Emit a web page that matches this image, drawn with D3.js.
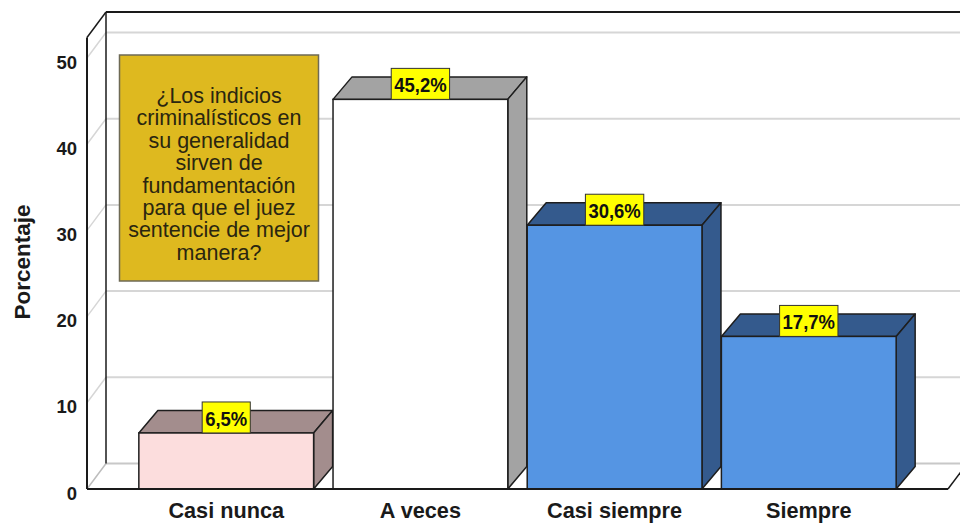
<!DOCTYPE html>
<html>
<head>
<meta charset="utf-8">
<script src="https://cdn.jsdelivr.net/npm/d3@7"></script>
<style>
  html, body { margin: 0; padding: 0; background: #fff; }
  svg { display: block; }
</style>
</head>
<body>
<svg id="chart" width="960" height="523"></svg>
<script>
// Categories and percentages
const categories = ["Casi nunca", "A veces", "Casi siempre", "Siempre"];
const percentages = [6.5, 45.2, 30.6, 17.7];
const yTicks = [0, 10, 20, 30, 40, 50];
const frontColors = ["#FCDDDD", "#FFFFFF", "#5595E3", "#5595E3"];
const depthColors = ["#A38D8D", "#A3A3A3", "#345A8D", "#345A8D"];
const questionLines = [
  "¿Los indicios",
  "criminalísticos en",
  "su generalidad",
  "sirven de",
  "fundamentación",
  "para que el juez",
  "sentencie de mejor",
  "manera?"
];

const svg = d3.select("#chart");
const font = "'Liberation Sans', Arial, sans-serif";

// Front plane scales
const y = d3.scaleLinear().domain([0, 50]).range([489, 58]);
const x = d3.scaleBand().domain(categories).range([87, 948])
  .paddingInner(0.1).paddingOuter(0.267);

// 3D offsets: walls and bars
const wall = { dx: 19, dy: -25.5 };
const bar = { dx: 19, dy: -22.5 };
const xLeft = 87, xRight = 948, yBottom = y(0);

// Back wall grid lines
const grid = svg.append("g");
yTicks.filter(t => t > 0).forEach(t => {
  grid.append("line")
    .attr("x1", xLeft + wall.dx).attr("x2", 960)
    .attr("y1", y(t) + wall.dy).attr("y2", y(t) + wall.dy)
    .attr("stroke", "#D6D6D6").attr("stroke-width", 2);
  grid.append("line")
    .attr("x1", xLeft).attr("y1", y(t))
    .attr("x2", xLeft + wall.dx).attr("y2", y(t) + wall.dy)
    .attr("stroke", "#D6D6D6").attr("stroke-width", 1.5);
});
// Floor back edge and left floor diagonal
grid.append("line")
  .attr("x1", xLeft + wall.dx).attr("x2", 960)
  .attr("y1", yBottom + wall.dy).attr("y2", yBottom + wall.dy)
  .attr("stroke", "#C8C8C8").attr("stroke-width", 2);
grid.append("line")
  .attr("x1", xLeft).attr("y1", yBottom)
  .attr("x2", xLeft + wall.dx).attr("y2", yBottom + wall.dy)
  .attr("stroke", "#BDBDBD").attr("stroke-width", 1.5);

// Frame lines
const frame = svg.append("g").attr("stroke", "#1a1a1a").attr("fill", "none");
const topY = 12;
frame.append("line").attr("x1", xLeft + wall.dx).attr("x2", 960)
  .attr("y1", topY).attr("y2", topY).attr("stroke-width", 2);
frame.append("line").attr("x1", xLeft + wall.dx).attr("x2", xLeft + wall.dx)
  .attr("y1", topY).attr("y2", yBottom + wall.dy).attr("stroke-width", 1.5);
frame.append("line").attr("x1", xLeft).attr("y1", topY - wall.dy)
  .attr("x2", xLeft + wall.dx).attr("y2", topY).attr("stroke-width", 1.5);
frame.append("line").attr("x1", xLeft).attr("x2", xLeft)
  .attr("y1", topY - wall.dy).attr("y2", yBottom).attr("stroke-width", 2);
frame.append("line").attr("x1", xRight).attr("y1", yBottom)
  .attr("x2", xRight + wall.dx).attr("y2", yBottom + wall.dy).attr("stroke-width", 1.5);

// Question box
const qb = svg.append("g");
qb.append("rect")
  .attr("x", 119.5).attr("y", 55).attr("width", 199).attr("height", 226)
  .attr("fill", "#DEB91F").attr("stroke", "#6E6A55").attr("stroke-width", 1.5);
qb.selectAll("text").data(questionLines).join("text")
  .attr("x", 219).attr("y", (d, i) => 103 + i * 22.4)
  .attr("text-anchor", "middle")
  .attr("font-family", font).attr("font-size", 21.5)
  .attr("fill", "#2a2610")
  .text(d => d);

// Bars (front, top, side)
const bars = svg.append("g").selectAll("g").data(categories).join("g");
bars.each(function(c, i) {
  const g = d3.select(this);
  const x0 = x(c), x1 = x(c) + x.bandwidth();
  const yt = y(percentages[i]), yb = y(0);
  const stroke = "#1e1e1e";
  g.append("path")
    .attr("d", `M${x0},${yt}L${x0 + bar.dx},${yt + bar.dy}L${x1 + bar.dx},${yt + bar.dy}L${x1},${yt}Z`)
    .attr("fill", depthColors[i]).attr("stroke", stroke).attr("stroke-width", 1.5)
    .attr("stroke-linejoin", "round");
  g.append("path")
    .attr("d", `M${x1},${yt}L${x1 + bar.dx},${yt + bar.dy}L${x1 + bar.dx},${yb + bar.dy}L${x1},${yb}Z`)
    .attr("fill", depthColors[i]).attr("stroke", stroke).attr("stroke-width", 1.5)
    .attr("stroke-linejoin", "round");
  g.append("rect")
    .attr("x", x0).attr("y", yt).attr("width", x.bandwidth()).attr("height", yb - yt)
    .attr("fill", frontColors[i]).attr("stroke", stroke).attr("stroke-width", 1.5);
});

// Floor front edge (x axis line)
svg.append("line").attr("x1", xLeft).attr("x2", xRight)
  .attr("y1", yBottom).attr("y2", yBottom)
  .attr("stroke", "#1a1a1a").attr("stroke-width", 2);

// Value labels
const fmt = v => v.toFixed(1).replace(".", ",") + "%";
const labels = svg.append("g").selectAll("g").data(categories).join("g");
labels.each(function(c, i) {
  const g = d3.select(this);
  const cx = x(c) + x.bandwidth() / 2;
  const yt = y(percentages[i]);
  const sx = 0.88;
  const rect = g.append("rect");
  const t = g.append("text")
    .attr("font-family", font).attr("font-weight", "bold").attr("font-size", 21)
    .attr("fill", "#111")
    .attr("text-anchor", "middle")
    .attr("transform", `translate(${cx},${yt - 7}) scale(${sx},1)`)
    .text(fmt(percentages[i]));
  const w = t.node().getComputedTextLength() * sx + 6;
  rect.attr("x", cx - w / 2).attr("y", yt - 31).attr("width", w).attr("height", 31)
    .attr("fill", "#FFFF00").attr("stroke", "#333").attr("stroke-width", 1);
});

// Y axis tick labels
svg.append("g").selectAll("text").data(yTicks).join("text")
  .attr("x", 77).attr("y", d => y(d) + 10.5)
  .attr("text-anchor", "end")
  .attr("font-family", font).attr("font-weight", "bold").attr("font-size", 18.5)
  .attr("fill", "#1a1a1a")
  .text(d => d);

// Category labels
svg.append("g").selectAll("text").data(categories).join("text")
  .attr("x", d => x(d) + x.bandwidth() / 2).attr("y", 518)
  .attr("text-anchor", "middle")
  .attr("font-family", font).attr("font-weight", "bold").attr("font-size", 21.7)
  .attr("fill", "#1a1a1a")
  .text(d => d);

// Y axis title
svg.append("text")
  .attr("transform", "translate(30,262) rotate(-90)")
  .attr("text-anchor", "middle")
  .attr("font-family", font).attr("font-weight", "bold").attr("font-size", 22.5)
  .attr("fill", "#1a1a1a")
  .text("Porcentaje");
</script>
</body>
</html>
